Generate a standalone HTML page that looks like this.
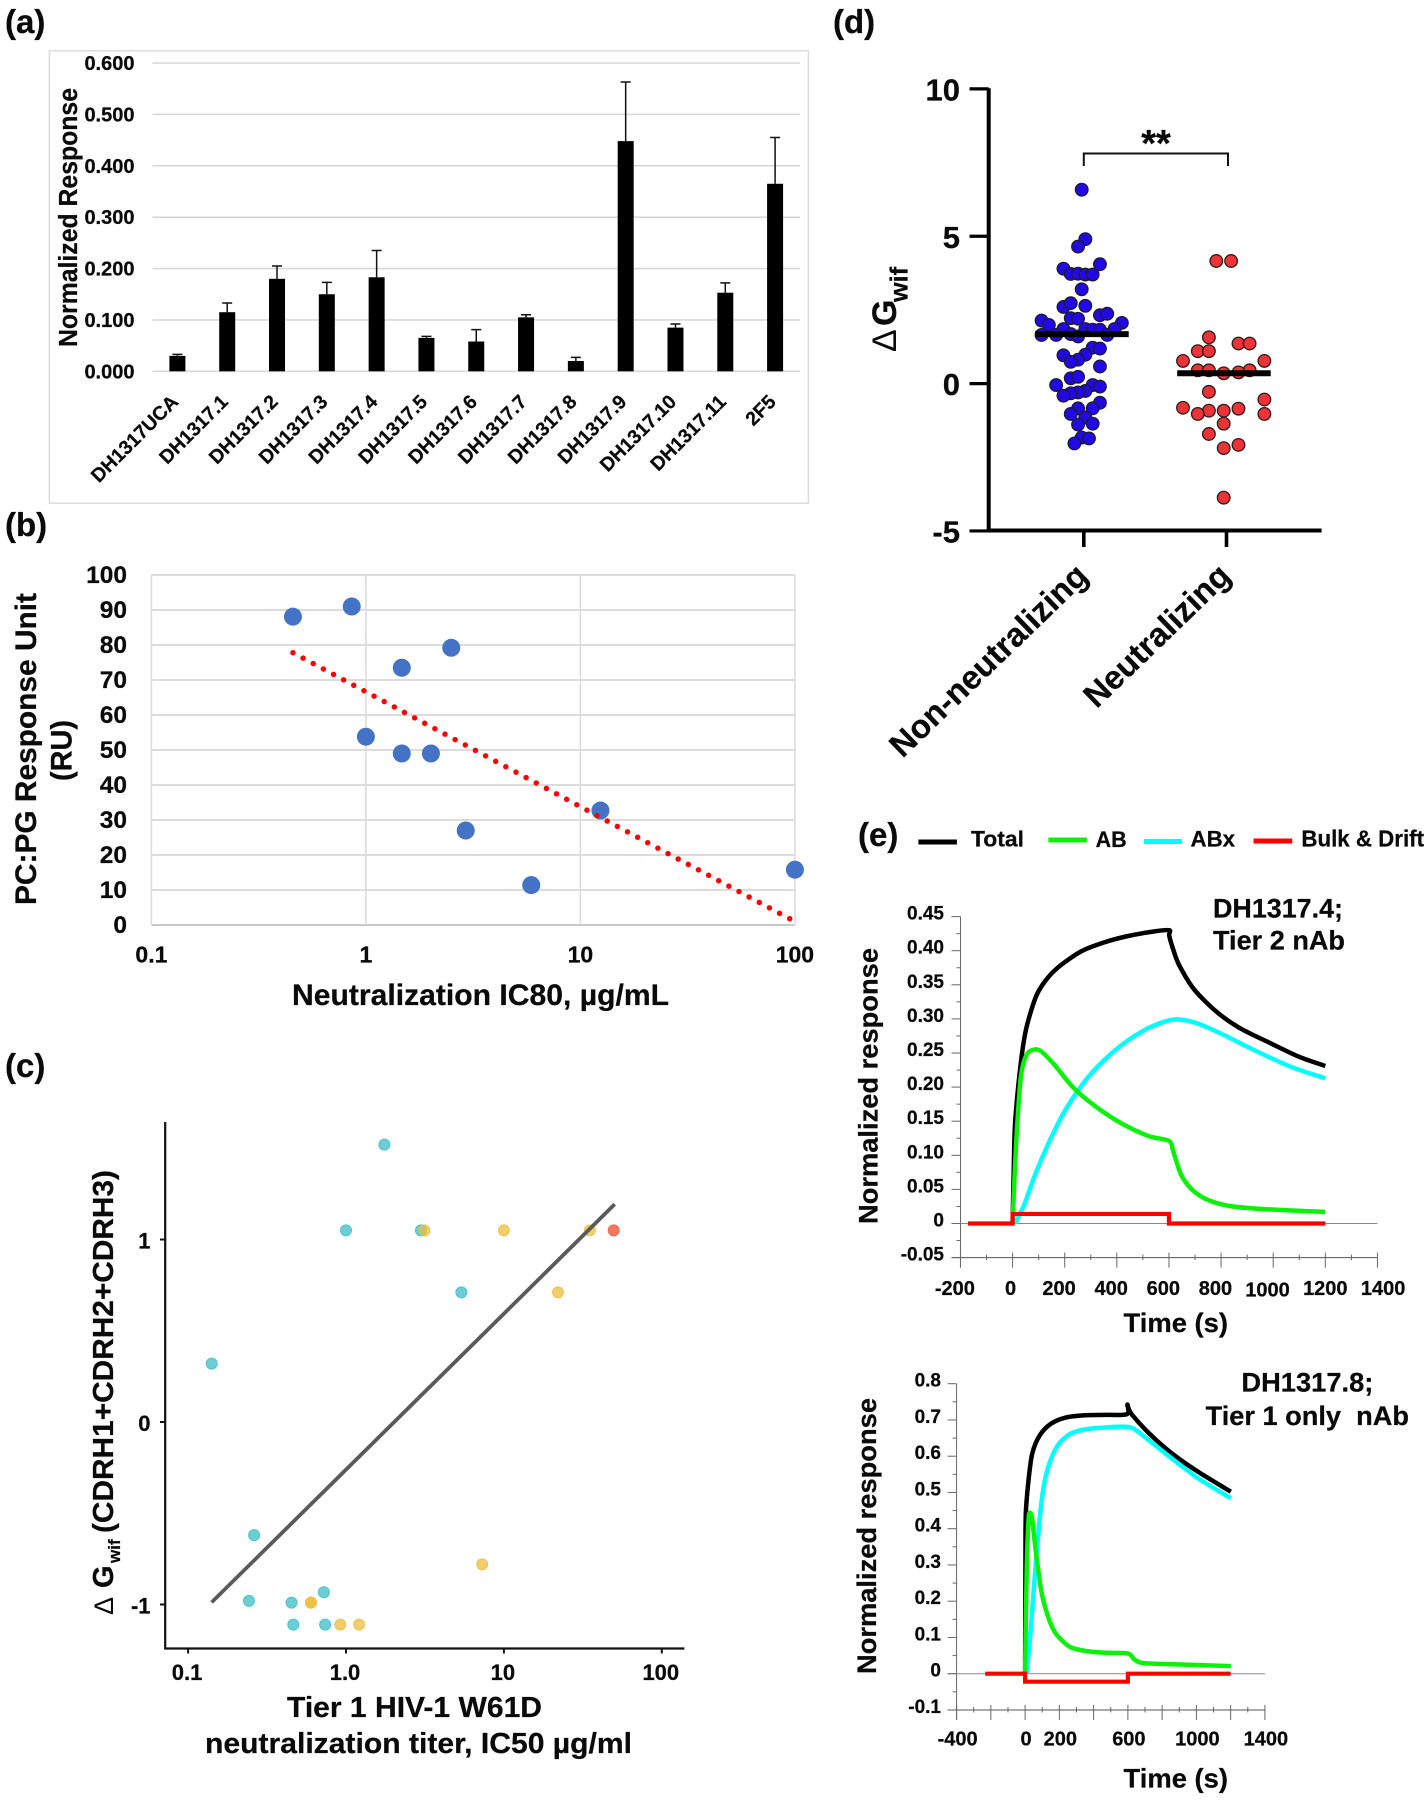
<!DOCTYPE html>
<html lang="en">
<head>
<meta charset="utf-8">
<title>DH1317 antibody binding and neutralization panels</title>
<style>
html,body{margin:0;padding:0;background:#fff;}
svg{display:block;}
text{font-family:"Liberation Sans",sans-serif;font-weight:700;fill:#0a0a0a;stroke:#0a0a0a;stroke-width:0.25px;}
</style>
</head>
<body>
<svg id="figure" width="1428" height="1800" viewBox="0 0 1428 1800" xmlns="http://www.w3.org/2000/svg">
  <rect x="0" y="0" width="1428" height="1800" fill="#fff"/>

  <text x="5" y="33" font-size="33">(a)</text>
  <text x="5" y="536" font-size="33">(b)</text>
  <text x="5" y="1077" font-size="33">(c)</text>
  <text x="833" y="33" font-size="33">(d)</text>
  <text x="858" y="846" font-size="33">(e)</text>

  <g id="panel-a">
    <rect x="49.4" y="50.7" width="759" height="452.5" fill="#fff" stroke="#dcdcdc" stroke-width="1.5"/>
    <text transform="translate(77,347) rotate(-90)" font-size="25.5" textLength="259" lengthAdjust="spacingAndGlyphs">Normalized Response</text>
  </g>

  <g id="panel-b">
    <text transform="translate(36,905) rotate(-90)" font-size="30" textLength="312" lengthAdjust="spacingAndGlyphs">PC:PG Response Unit</text>
    <text transform="translate(71.5,781) rotate(-90)" font-size="30" textLength="61" lengthAdjust="spacingAndGlyphs">(RU)</text>
    <text x="292" y="1005" font-size="30" textLength="377" lengthAdjust="spacingAndGlyphs">Neutralization IC80, µg/mL</text>
  </g>

  <g id="panel-c">
    <text transform="translate(113,1615) rotate(-90)" font-size="27" style="font-weight:400;stroke:none">Δ</text>
    <text transform="translate(113,1588) rotate(-90)" font-size="29">G</text>
    <text transform="translate(120,1563) rotate(-90)" font-size="17">wif</text>
    <text transform="translate(113,1533) rotate(-90)" font-size="29" textLength="363" lengthAdjust="spacingAndGlyphs">(CDRH1+CDRH2+CDRH3)</text>
    <text x="287" y="1717" font-size="29" textLength="255" lengthAdjust="spacingAndGlyphs">Tier 1 HIV-1 W61D</text>
    <text x="205" y="1753" font-size="29" textLength="427" lengthAdjust="spacingAndGlyphs">neutralization titer, IC50 µg/ml</text>
  </g>

  <g id="panel-d">
    <text transform="translate(896,352) rotate(-90)" font-size="34" style="font-weight:400;stroke:none">Δ</text>
    <text transform="translate(896,326) rotate(-90)" font-size="34">G</text>
    <text transform="translate(907.5,302) rotate(-90)" font-size="25" textLength="35" lengthAdjust="spacingAndGlyphs">wif</text>
    <path d="M1083.8 166V153.5H1228V166" fill="none" stroke="#111" stroke-width="2"/>
    <text x="1156" y="156" font-size="38" text-anchor="middle">**</text>
  </g>

  <g id="panel-e-legend">
    <line x1="918.4" x2="956.9" y1="842" y2="842" stroke="#000" stroke-width="5"/>
    <text x="971" y="846.5" font-size="22" textLength="53" lengthAdjust="spacingAndGlyphs">Total</text>
    <line x1="1048.4" x2="1086.9" y1="840" y2="840" stroke="#0cf00c" stroke-width="5"/>
    <text x="1095.6" y="847" font-size="22" textLength="31" lengthAdjust="spacingAndGlyphs">AB</text>
    <line x1="1143.8" x2="1182.3" y1="841.5" y2="841.5" stroke="#0ff" stroke-width="5"/>
    <text x="1190.5" y="846.5" font-size="22" textLength="44.5" lengthAdjust="spacingAndGlyphs">ABx</text>
    <line x1="1253.5" x2="1292.3" y1="841" y2="841" stroke="#f00" stroke-width="5"/>
    <text x="1301.4" y="846.5" font-size="23" textLength="122.6" lengthAdjust="spacingAndGlyphs">Bulk &amp; Drift</text>
  </g>

  <g id="panel-e1">
    <text transform="translate(877.5,1224) rotate(-90)" font-size="27" textLength="276" lengthAdjust="spacingAndGlyphs">Normalized response</text>
    <text x="1123.5" y="1332" font-size="27" textLength="104.5" lengthAdjust="spacingAndGlyphs">Time (s)</text>
    <text x="1213" y="917.5" font-size="27" textLength="130" lengthAdjust="spacingAndGlyphs">DH1317.4;</text>
    <text x="1213" y="949.5" font-size="27" textLength="132" lengthAdjust="spacingAndGlyphs">Tier 2 nAb</text>
  </g>

  <g id="panel-e2">
    <text transform="translate(876,1674) rotate(-90)" font-size="27" textLength="276" lengthAdjust="spacingAndGlyphs">Normalized response</text>
    <text x="1123.5" y="1787.5" font-size="27" textLength="104.5" lengthAdjust="spacingAndGlyphs">Time (s)</text>
    <text x="1241.4" y="1391.5" font-size="27" textLength="132" lengthAdjust="spacingAndGlyphs">DH1317.8;</text>
    <text x="1205.6" y="1425" font-size="27" textLength="203.4" lengthAdjust="spacingAndGlyphs" xml:space="preserve">Tier 1 only  nAb</text>
  </g>
</svg>

<script>
// ---------- Panel (a) data ----------
const aCategories = ['DH1317UCA','DH1317.1','DH1317.2','DH1317.3','DH1317.4','DH1317.5','DH1317.6','DH1317.7','DH1317.8','DH1317.9','DH1317.10','DH1317.11','2F5'];
const aValues = [0.030,0.115,0.180,0.150,0.183,0.065,0.058,0.105,0.020,0.448,0.085,0.153,0.365];
const aErrorTops = [0.033,0.133,0.205,0.173,0.235,0.068,0.081,0.110,0.027,0.563,0.092,0.172,0.455];
const aTicks = [0,0.1,0.2,0.3,0.4,0.5,0.6];
const aTickLabels = ['0.000','0.100','0.200','0.300','0.400','0.500','0.600'];

// ---------- Panel (b) data ----------
const bX = [0.457,0.859,2.5,1.47,1.0,1.47,2.01,12.4,2.92,5.9,100];
const bY = [88.1,91,79.2,73.5,53.8,49,49,32.7,27,11.4,15.8];
const bTrendX = [0.457,100];
const bTrendY = [77.8,1];
const bYTicks = [0,10,20,30,40,50,60,70,80,90,100];
const bXTicks = [0.1,1,10,100];
const bXTickLabels = ['0.1','1','10','100'];

// ---------- Panel (c) data ----------
const cTealX = [1.75,1.0,2.98,5.38,0.141,0.262,0.243,0.452,0.724,0.464,0.738];
const cTealY = [1.52,1.05,1.05,0.71,0.32,-0.62,-0.98,-0.99,-0.933,-1.11,-1.11];
const cYellowX = [3.14,10,35,22,7.29,0.6,0.6,0.92,1.21];
const cYellowY = [1.05,1.05,1.05,0.71,-0.78,-0.99,-0.99,-1.11,-1.11];
const cRedX = [49.6];
const cRedY = [1.05];
const cFitX = [0.141,50.3];
const cFitY = [-0.988,1.193];
const cXTicks = [0.1,1,10,100];
const cXTickLabels = ['0.1','1.0','10','100'];
const cYTicks = [-1,0,1];

// ---------- Panel (d) data ----------
const dCategories = ['Non-neutralizing','Neutralizing'];
const dYTicks = [-5,0,5,10];
const dBlueValues = [6.58,4.90,4.65,4.05,3.90,3.72,3.73,3.70,3.70,3.20,2.60,2.73,2.64,2.32,2.37,2.22,2.20,2.14,1.99,2.06,1.85,1.85,1.83,1.83,1.85,1.65,1.65,1.68,1.60,1.65,1.22,1.19,0.96,0.98,0.81,0.74,0.58,0.18,0.23,-0.05,-0.05,-0.10,-0.25,-0.30,-0.33,-0.41,-0.65,-0.84,-0.84,-1.03,-1.15,-1.39,-1.36,-1.83,-1.86,-2.03];
const dBlueSlots = [0,1,-1,5,-5,-3,-1,1,3,0,-5,-3,1,5,7,-3,-1,-11,-9,11,-5,1,3,5,9,-11,-7,-3,-1,7,3,5,-5,1,-1,-3,5,-3,-1,-7,3,5,1,-1,-3,-5,5,3,-1,-3,1,-1,3,0,2,-2];
const dBlueMedian = 1.68;
const dRedValues = [4.16,4.16,1.57,1.36,1.36,1.10,1.10,0.77,0.77,0.45,0.45,0.45,0.35,0.38,-0.28,-0.54,-0.82,-0.85,-0.92,-0.92,-1.03,-1.03,-1.36,-1.71,-2.08,-2.19,-3.87];
const dRedSlots = [-2,2,-4,4,7,-7,-4,-11,11,-7,-4,7,0,4,-4,11,-11,4,-4,0,-7,11,0,-4,4,0,0];
const dRedMedian = 0.35;

// ---------- Panel (e) upper sensorgram data ----------
const e1TotalT = [0,5,10,32,53,90,126,176,263,350,437,538,601,601,617,639,697,784,870,986,1102,1200];
const e1TotalV = [0,0.09,0.15,0.237,0.287,0.333,0.356,0.376,0.399,0.412,0.421,0.428,0.43,0.422,0.401,0.379,0.343,0.31,0.287,0.265,0.244,0.231];
const e1AbT = [0,7,17,32,53,82,111,162,234,321,422,524,601,617,646,683,741,827,928,1073,1200];
const e1AbV = [0,0.064,0.14,0.216,0.247,0.255,0.252,0.232,0.199,0.171,0.146,0.128,0.121,0.105,0.072,0.052,0.036,0.026,0.022,0.019,0.017];
const e1AbxT = [10,46,90,147,205,278,350,437,524,601,646,712,813,928,1073,1200];
const e1AbxV = [0,0.029,0.075,0.125,0.168,0.209,0.239,0.267,0.287,0.298,0.299,0.293,0.276,0.254,0.229,0.213];
const e1BulkT = [-171,0,0,600,600,1200];
const e1BulkV = [0,0,0.014,0.014,0,0];
const e1YTicks = [-0.05,0,0.05,0.10,0.15,0.20,0.25,0.30,0.35,0.40,0.45];
const e1YLabels = ['-0.05','0','0.05','0.10','0.15','0.20','0.25','0.30','0.35','0.40','0.45'];
const e1XTicks = [-200,0,200,400,600,800,1000,1200,1400];
const e1XLabels = ['-200','0','200','400','600','800','1000','1200','1400'];

// ---------- Panel (e) lower sensorgram data ----------
const e2TotalT = [0,2,4,20,42,86,152,240,350,460,594,597,604,625,724,856,1010,1201];
const e2TotalV = [0,0.3,0.44,0.534,0.608,0.658,0.69,0.707,0.713,0.714,0.716,0.742,0.732,0.714,0.663,0.608,0.557,0.502];
const e2AbT = [0,9,20,29,42,64,97,141,185,262,350,460,600,636,680,790,1010,1201];
const e2AbV = [0,0.277,0.424,0.444,0.424,0.332,0.222,0.148,0.107,0.074,0.063,0.058,0.056,0.04,0.03,0.027,0.024,0.021];
const e2AbxT = [9,31,64,97,130,185,262,350,460,600,658,746,856,1010,1201];
const e2AbxV = [0,0.111,0.314,0.479,0.562,0.626,0.661,0.674,0.679,0.681,0.668,0.635,0.594,0.539,0.484];
const e2BulkT = [-233,0,0,600,600,1200];
const e2BulkV = [0,0,-0.022,-0.022,0,0];
const e2YTicks = [-0.1,0,0.1,0.2,0.3,0.4,0.5,0.6,0.7,0.8];
const e2YLabels = ['-0.1','0','0.1','0.2','0.3','0.4','0.5','0.6','0.7','0.8'];
const e2XTicks = [-400,-200,0,200,400,600,800,1000,1200,1400];
const e2XLabels = ['-400','','0','200','','600','','1000','','1400'];

// ---------- Helpers ----------
const NS = 'http://www.w3.org/2000/svg';
function mk(parent, tag, attrs, text) {
  const el = document.createElementNS(NS, tag);
  for (const k in attrs) el.setAttribute(k, attrs[k]);
  if (text !== undefined) el.textContent = text;
  parent.appendChild(el);
  return el;
}
function smoothPath(xs, ys) {
  const k = 1 / 7;
  let d = 'M' + xs[0] + ' ' + ys[0];
  for (let i = 0; i < xs.length - 1; i++) {
    const i0 = Math.max(i - 1, 0), i3 = Math.min(i + 2, xs.length - 1);
    const c1x = xs[i] + (xs[i + 1] - xs[i0]) * k, c1y = ys[i] + (ys[i + 1] - ys[i0]) * k;
    const c2x = xs[i + 1] - (xs[i3] - xs[i]) * k, c2y = ys[i + 1] - (ys[i3] - ys[i]) * k;
    d += 'C' + c1x + ' ' + c1y + ' ' + c2x + ' ' + c2y + ' ' + xs[i + 1] + ' ' + ys[i + 1];
  }
  return d;
}
function straightPath(xs, ys) {
  return xs.map((x, i) => (i ? 'L' : 'M') + x + ' ' + ys[i]).join('');
}

// ---------- Panel (a) ----------
(function () {
  const g = document.getElementById('panel-a');
  const y = v => 371.3 - v * 513.8;
  const band = (800 - 152.5) / aCategories.length;
  const x = i => 152.5 + (i + 0.5) * band;
  aTicks.forEach((t, i) => {
    const grid = mk(g, 'line', {x1: 152.5, x2: 800, y1: y(t), y2: y(t), stroke: '#d9d9d9', 'stroke-width': 1.6});
    
    
    const lab = mk(g, 'text', {x: 134.5, y: y(t) + 7, 'text-anchor': 'end', 'font-size': 20}, aTickLabels[i]);
    
    
  });
  aCategories.forEach((c, i) => {
    const err = mk(g, 'path', {d: 'M' + x(i) + ' ' + y(aValues[i]) + 'V' + y(aErrorTops[i]) + 'M' + (x(i) - 5) + ' ' + y(aErrorTops[i]) + 'H' + (x(i) + 5), fill: 'none', stroke: '#111', 'stroke-width': 1.5});
    
    
    const bar = mk(g, 'rect', {x: x(i) - 8, y: y(aValues[i]), width: 16, height: y(0) - y(aValues[i]), fill: '#000'});
    
    
    const lab = mk(g, 'text', {transform: 'translate(' + (x(i) + 2) + ',403) rotate(-45)', 'text-anchor': 'end', 'font-size': 19.5}, c);
    
    
  });
})();

// ---------- Panel (b) ----------
(function () {
  const g = document.getElementById('panel-b');
  const x = v => 365.9 + Math.log10(v) * 214.5;
  const y = v => 925 - v * 3.5;
  bYTicks.forEach(t => {
    const grid = mk(g, 'line', {x1: x(0.1), x2: x(100), y1: y(t), y2: y(t), stroke: t === 0 ? '#c8c8c8' : '#dcdcdc', 'stroke-width': 2});
    
    
    const lab = mk(g, 'text', {x: 127, y: y(t) + 7.8, 'text-anchor': 'end', 'font-size': 24.5}, String(t));
    
    
  });
  bXTicks.forEach((t, i) => {
    const grid = mk(g, 'line', {x1: x(t), x2: x(t), y1: y(0), y2: y(100), stroke: '#dcdcdc', 'stroke-width': 1.6});
    
    
    const lab = mk(g, 'text', {x: x(t), y: 962.5, 'text-anchor': 'middle', 'font-size': 23}, bXTickLabels[i]);
    
    
  });
  bX.forEach((v, i) => {
    const pt = mk(g, 'circle', {cx: x(v), cy: y(bY[i]), r: 9, fill: '#4472c4'});
    
    
  });
  const trend = mk(g, 'line', {x1: x(bTrendX[0]), y1: y(bTrendY[0]), x2: x(bTrendX[1]), y2: y(bTrendY[1]), stroke: '#f00', 'stroke-width': 5.5, 'stroke-linecap': 'round', 'stroke-dasharray': '0 11.5'});
  
  
})();

// ---------- Panel (c) ----------
(function () {
  const g = document.getElementById('panel-c');
  const x = v => 346 + Math.log10(v) * 157.9;
  const y = v => 1422 - v * 182.5;
  const axes = mk(g, 'path', {d: 'M165.2 1122V1648.5H684.4', fill: 'none', stroke: '#111', 'stroke-width': 2.2});
  
  
  cXTicks.forEach((t, i) => {
    const tick = mk(g, 'line', {x1: x(t), x2: x(t), y1: 1648.5, y2: 1653.5, stroke: '#111', 'stroke-width': 2});
    
    
    const lab = mk(g, 'text', {x: x(t) - 1, y: 1680, 'text-anchor': 'middle', 'font-size': 22}, cXTickLabels[i]);
    
    
  });
  cYTicks.forEach(t => {
    const tick = mk(g, 'line', {x1: 160, x2: 165.2, y1: y(t), y2: y(t), stroke: '#111', 'stroke-width': 2});
    
    
    const lab = mk(g, 'text', {x: 150.5, y: y(t) + 9, 'text-anchor': 'end', 'font-size': 22}, String(t));
    
    
  });
  cTealX.forEach((v, i) => {
    const pt = mk(g, 'circle', {cx: x(v), cy: y(cTealY[i]), r: 5.5, fill: '#5cc9cf', 'fill-opacity': 0.9, stroke: '#4dc4cc', 'stroke-width': 1});
    
    
  });
  cYellowX.forEach((v, i) => {
    const pt = mk(g, 'circle', {cx: x(v), cy: y(cYellowY[i]), r: 5.5, fill: '#ecbe3c', 'fill-opacity': 0.75, stroke: '#ecbe3c', 'stroke-width': 1, 'stroke-opacity': 0.8});
    
    
  });
  cRedX.forEach((v, i) => {
    const pt = mk(g, 'circle', {cx: x(v), cy: y(cRedY[i]), r: 5.5, fill: '#f4694b', 'fill-opacity': 0.9, stroke: '#f4694b', 'stroke-width': 1});
    
    
  });
  const fit = mk(g, 'line', {x1: x(cFitX[0]), y1: y(cFitY[0]), x2: x(cFitX[1]), y2: y(cFitY[1]), stroke: '#5a5a5a', 'stroke-width': 3.8});
  
  
})();

// ---------- Panel (d) ----------
(function () {
  const g = document.getElementById('panel-d');
  const y = v => 383.6 - v * 29.47;
  const blueX = s => 1081.7 + s * 3.65;
  const redX = s => 1223.7 + s * 3.7;
  const catX = i => 1083.8 + i * 142.7;
  const axes = mk(g, 'path', {d: 'M988.7 88.2V530.5H1321.6', fill: 'none', stroke: '#000', 'stroke-width': 4});
  
  
  dYTicks.forEach(t => {
    const tick = mk(g, 'line', {x1: 969.5, x2: 988.7, y1: y(t), y2: y(t), stroke: '#000', 'stroke-width': 3.2});
    
    
    const lab = mk(g, 'text', {x: 960, y: y(t) + 11.5, 'text-anchor': 'end', 'font-size': 31, stroke: '#0a0a0a', 'stroke-width': 0.8}, String(t));
    
    
  });
  dCategories.forEach((c, i) => {
    const tick = mk(g, 'line', {x1: catX(i), x2: catX(i), y1: 530.5, y2: 547, stroke: '#000', 'stroke-width': 3.6});
    
    
    const lab = mk(g, 'text', {transform: 'translate(' + (catX(i) + 6) + ',578) rotate(-44)', 'text-anchor': 'end', 'font-size': 33, stroke: '#0a0a0a', 'stroke-width': 0.6}, c);
    
    
  });
  dBlueValues.forEach((v, i) => {
    const pt = mk(g, 'circle', {cx: blueX(dBlueSlots[i]), cy: y(v), r: 6.3, fill: '#2208e6', stroke: '#1c1c2e', 'stroke-width': 1.3});
    
    
  });
  dRedValues.forEach((v, i) => {
    const pt = mk(g, 'circle', {cx: redX(dRedSlots[i]), cy: y(v), r: 6.3, fill: '#ee3338', stroke: '#2a1c1c', 'stroke-width': 1.3});
    
    
  });
  const m1 = mk(g, 'line', {x1: blueX(0) - 46.5, x2: blueX(0) + 47, y1: y(dBlueMedian), y2: y(dBlueMedian), stroke: '#000', 'stroke-width': 6});
  
  
  const m2 = mk(g, 'line', {x1: redX(0) - 46.5, x2: redX(0) + 47, y1: y(dRedMedian), y2: y(dRedMedian), stroke: '#000', 'stroke-width': 6});
  
  
})();

// ---------- Panel (e) ----------
function drawSensorgram(g, x, y, cfg) {
  const left = x(cfg.xTicks[0]);
  const right = x(cfg.xTicks[cfg.xTicks.length - 1]);
  const yBottom = y(cfg.yTicks[0]);
  const yTop = y(cfg.yTicks[cfg.yTicks.length - 1]);
  const yAxis = mk(g, 'line', {x1: left, x2: left, y1: yTop, y2: yBottom + 10, stroke: '#666', 'stroke-width': 1});
  
  
  const xAxis = mk(g, 'line', {x1: left - 9, x2: right, y1: yBottom, y2: yBottom, stroke: '#555', 'stroke-width': 1});
  
  
  const zero = mk(g, 'line', {x1: left - 9, x2: right, y1: y(0), y2: y(0), stroke: '#8a8a8a', 'stroke-width': 1});
  
  
  cfg.yTicks.forEach((t, i) => {
    const tick = mk(g, 'line', {x1: left - 9, x2: left, y1: y(t), y2: y(t), stroke: '#666', 'stroke-width': 1});
    
    
    if (i < cfg.yTicks.length - 1) {
      const mid = (t + cfg.yTicks[i + 1]) / 2;
      const minor = mk(g, 'line', {x1: left - 4, x2: left, y1: y(mid), y2: y(mid), stroke: '#666', 'stroke-width': 1});
      
      
    }
    const lab = mk(g, 'text', {x: cfg.yLabelRight, y: y(t) + 3, 'text-anchor': 'end', 'font-size': 19}, cfg.yLabels[i]);
    
    
  });
  cfg.xTicks.forEach((t, i) => {
    const tick = mk(g, 'line', {x1: x(t), x2: x(t), y1: yBottom - 5, y2: yBottom + 10, stroke: '#666', 'stroke-width': 1});
    
    
    if (i < cfg.xTicks.length - 1) {
      const mid = (t + cfg.xTicks[i + 1]) / 2;
      const minor = mk(g, 'line', {x1: x(mid), x2: x(mid), y1: yBottom - 3, y2: yBottom + 2.5, stroke: '#666', 'stroke-width': 1});
      
      
    }
    if (cfg.xLabels[i] !== '') {
      const lab = mk(g, 'text', {x: x(t) + cfg.xLabelNudge(t), y: cfg.xLabelBaseline + (t === 1000 ? cfg.thousandDrop : 0), 'text-anchor': 'middle', 'font-size': 20}, cfg.xLabels[i]);
      
      
    }
  });
  const total = mk(g, 'path', {d: smoothPath(cfg.totalT.map(x), cfg.totalV.map(y)), fill: 'none', stroke: '#000', 'stroke-width': 4.5, 'stroke-linejoin': 'round'});
  
  
  const abx = mk(g, 'path', {d: smoothPath(cfg.abxT.map(x), cfg.abxV.map(y)), fill: 'none', stroke: '#0ff', 'stroke-width': 4.5, 'stroke-linejoin': 'round'});
  
  
  const ab = mk(g, 'path', {d: smoothPath(cfg.abT.map(x), cfg.abV.map(y)), fill: 'none', stroke: '#0cf00c', 'stroke-width': 4.5, 'stroke-linejoin': 'round'});
  
  
  const bulk = mk(g, 'path', {d: straightPath(cfg.bulkT.map(x), cfg.bulkV.map(y)), fill: 'none', stroke: '#f00', 'stroke-width': 4.2, 'stroke-linejoin': 'miter'});
  
  
}

drawSensorgram(document.getElementById('panel-e1'),
  t => 1012.6 + t * 0.2606,
  v => 1223.5 - v * 682,
  {
    xTicks: e1XTicks, xLabels: e1XLabels, yTicks: e1YTicks, yLabels: e1YLabels,
    yLabelRight: 944, xLabelBaseline: 1295, thousandDrop: 1.5,
    xLabelNudge: t => t <= 800 ? (t === 0 ? -2 : -5.6) : (t - 1200) * 0.0285,
    totalT: e1TotalT, totalV: e1TotalV, abT: e1AbT, abV: e1AbV,
    abxT: e1AbxT, abxV: e1AbxV, bulkT: e1BulkT, bulkV: e1BulkV
  });

drawSensorgram(document.getElementById('panel-e2'),
  t => 1025.1 + t * 0.1713,
  v => 1673.7 - v * 362.5,
  {
    xTicks: e2XTicks, xLabels: e2XLabels, yTicks: e2YTicks, yLabels: e2YLabels,
    yLabelRight: 941, xLabelBaseline: 1745.7, thousandDrop: 0,
    xLabelNudge: t => 1,
    totalT: e2TotalT, totalV: e2TotalV, abT: e2AbT, abV: e2AbV,
    abxT: e2AbxT, abxV: e2AbxV, bulkT: e2BulkT, bulkV: e2BulkV
  });
</script>
</body>
</html>
